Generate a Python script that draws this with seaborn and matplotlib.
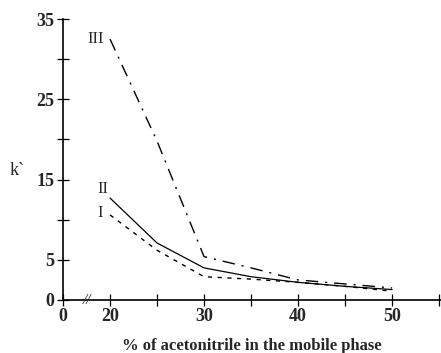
import pandas as pd
import matplotlib
matplotlib.use("Agg")
import matplotlib.pyplot as plt
import seaborn as sns
from matplotlib.ticker import FixedLocator

# Datos
acn = [20, 25, 30, 35, 40, 45, 50]
k_I = [10.6, 6.2, 2.9, 2.6, 2.2, 1.7, 1.1]
k_II = [12.7, 7.1, 4.0, 2.9, 2.2, 1.7, 1.3]
k_III = [32.5, 19.8, 5.4, 4.0, 2.5, 2.0, 1.5]

x_ticks = [15, 20, 30, 40, 50, 55]
x_labels = ["0", "20", "30", "40", "50", ""]
y_ticks = [0, 5, 15, 25, 35]
y_minor = [10, 20, 30]

sns.set_style("white")
plt.rcParams["font.family"] = ["Liberation Serif", "DejaVu Serif"]

fig = plt.figure(figsize=(4.41, 3.53), dpi=100)
ax = fig.add_axes([63 / 441, 53 / 353, 378 / 441, 281 / 353])

df = pd.DataFrame({"x": acn, "I": k_I, "II": k_II, "III": k_III})

sns.lineplot(data=df, x="x", y="I", ax=ax, color="black", lw=1.0,
             linestyle=(0, (3, 4)))
sns.lineplot(data=df, x="x", y="II", ax=ax, color="black", lw=0.9,
             linestyle="-")
sns.lineplot(data=df, x="x", y="III", ax=ax, color="black", lw=1.0,
             linestyle=(0, (9, 5, 1.5, 5)))

ax.set_xlim(15, 55.2)
ax.set_ylim(0, 35)

ax.set_xticks(x_ticks)
ax.set_xticklabels(x_labels, fontsize=13, fontweight="bold")
ax.xaxis.set_minor_locator(FixedLocator([25, 35, 45]))
ax.set_yticks(y_ticks)
ax.set_yticklabels([str(v) for v in y_ticks], fontsize=13, fontweight="bold")
ax.yaxis.set_minor_locator(FixedLocator(y_minor))
ax.tick_params(which="both", direction="inout", length=8, width=0.9,
               color="black", pad=2)
ax.tick_params(axis="x", which="both", bottom=True)
ax.tick_params(axis="y", which="both", left=True)

for s in ["top", "right"]:
    ax.spines[s].set_visible(False)
for s in ["left", "bottom"]:
    ax.spines[s].set_color("black")
    ax.spines[s].set_linewidth(1.2)

ax.set_xlabel("% of acetonitrile in the mobile phase", fontsize=12,
              fontweight="bold", labelpad=9)
ax.set_ylabel("")
fig.text(10 / 441, 1 - 170 / 353, "k`", fontsize=13, va="center")

# marca de corte del eje x
ax.text(17.6, 0, "//", fontsize=11, ha="center", va="center",
        fontstyle="italic")

# etiquetas de las curvas
ax.text(18.5, 32.5, "III", fontsize=12, ha="center", va="center")
ax.text(19.2, 13.8, "II", fontsize=12, ha="center", va="center")
ax.text(18.9, 10.8, "I", fontsize=12, ha="center", va="center")

fig.savefig("out.png", dpi=100)
